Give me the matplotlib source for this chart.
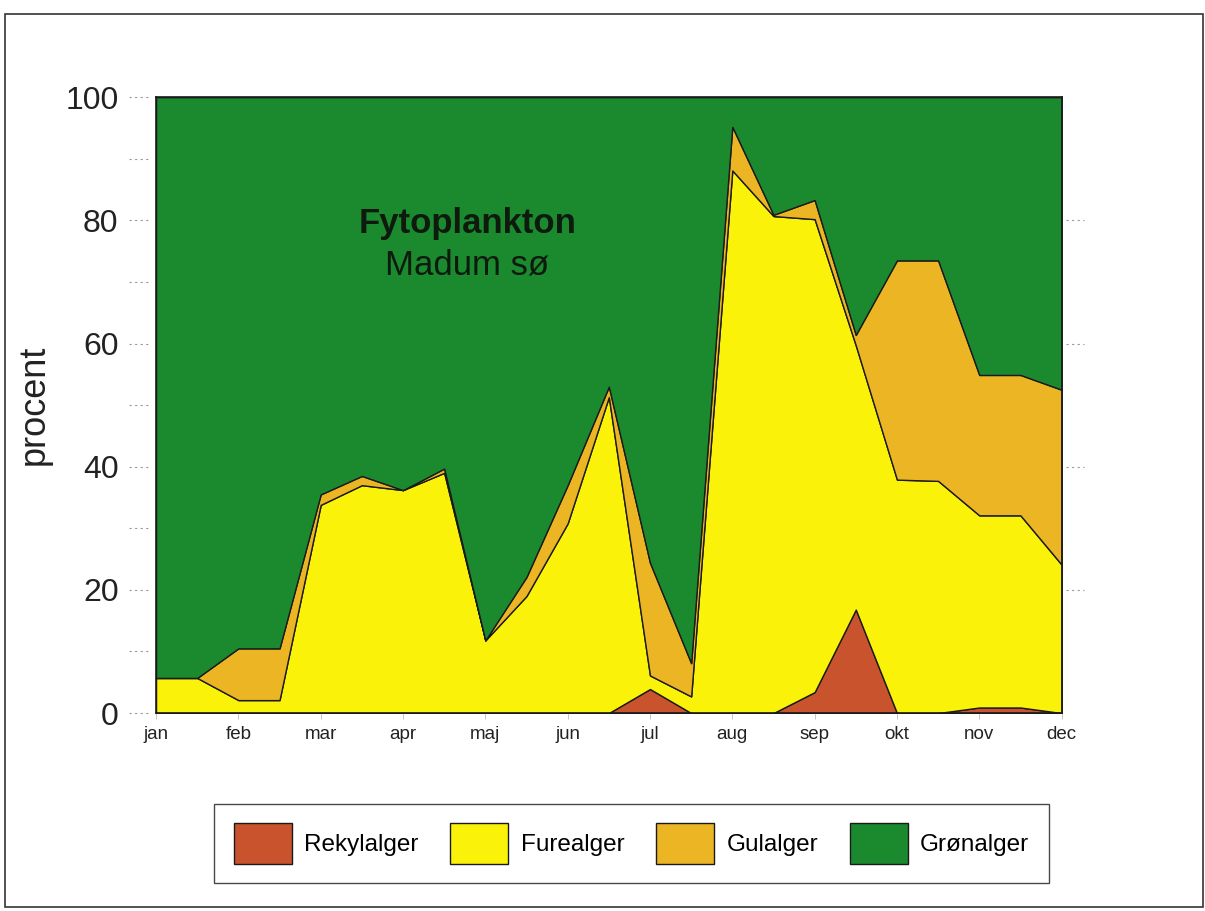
import matplotlib.pyplot as plt
from matplotlib.patches import Patch, Rectangle
import numpy as np

plt.rcParams['font.family'] = ['Liberation Sans', 'DejaVu Sans']

# half-month sampling points, jan .. dec
months = ['jan', 'feb', 'mar', 'apr', 'maj', 'jun', 'jul', 'aug', 'sep', 'okt', 'nov', 'dec']
x = np.arange(23) * 0.5

# percent of total biomass
rekylalger = [0, 0, 0, 0, 0, 0, 0, 0, 0, 0, 0, 0,
              3.9, 0, 0, 0, 3.4, 16.8, 0, 0, 0.9, 0.9, 0]
furealger = [5.7, 5.7, 2.1, 2.1, 33.8, 37.0, 36.2, 39.0, 11.8, 19.0, 30.8, 51.3,
             2.2, 2.7, 88.1, 80.7, 76.8, 42.9, 37.9, 37.7, 31.2, 31.2, 24.1]
gulalger = [0, 0, 8.4, 8.4, 1.7, 1.5, 0, 0.7, 0, 3.1, 6.2, 1.7,
            18.3, 5.4, 7.1, 0.2, 3.1, 1.7, 35.6, 35.8, 22.8, 22.8, 28.4]
gronalger = [94.3, 94.3, 89.5, 89.5, 64.5, 61.5, 63.8, 60.3, 88.2, 77.9, 63.0, 47.0,
             75.6, 91.9, 4.8, 19.1, 16.7, 38.6, 26.5, 26.5, 45.1, 45.1, 47.5]

names = ['Rekylalger', 'Furealger', 'Gulalger', 'Grønalger']
colors = ['#c9532c', '#fbf20a', '#ecb524', '#1b8a2f']

fig = plt.figure(figsize=(12.05, 9.11), dpi=100)
ax = fig.add_axes([0.1295, 0.2173, 0.7515, 0.676])

polys = ax.stackplot(x, rekylalger, furealger, gulalger, gronalger,
                     colors=colors, edgecolor='#1a1a1a', linewidth=1.0)
ax.set_xlim(0, 11)
ax.set_ylim(0, 100)

for s in ax.spines.values():
    s.set_linewidth(1.2)
    s.set_color('#1a1a1a')

ax.set_yticks([0, 20, 40, 60, 80, 100])
ax.set_yticklabels(['0', '20', '40', '60', '80', '100'], fontsize=23, color='#222222')
ax.tick_params(axis='y', length=0, pad=27)
ax.set_xticks(range(12))
ax.set_xticklabels(months, fontsize=13.5, color='#222222')
ax.tick_params(axis='x', length=4, width=0.6, color='#bbbbbb', pad=5)
ax.set_ylabel('procent', fontsize=26, color='#222222', labelpad=10)

# faint dotted tick marks outside the frame
yl = ax.get_yaxis_transform()
for v in range(0, 101, 10):
    ax.plot([-0.03, -0.008], [v, v], transform=yl, clip_on=False,
            color='#9a9a9a', lw=0.8, ls=(0, (2, 3)))
for v in [20, 40, 60, 80]:
    ax.plot([1.005, 1.025], [v, v], transform=yl, clip_on=False,
            color='#9a9a9a', lw=0.8, ls=(0, (2, 3)))

ax.text(3.78, 79.5, 'Fytoplankton', fontsize=25, fontweight='bold',
        ha='center', va='center', color='#0e1a0e')
ax.text(3.78, 72.7, 'Madum sø', fontsize=25, ha='center', va='center', color='#0e1a0e')

handles = [Patch(facecolor=c, edgecolor='#1a1a1a', linewidth=1.0) for c in colors]
leg = fig.legend(handles, names, loc='center', bbox_to_anchor=(0.524, 0.074),
                 ncol=4, fontsize=17.5, frameon=True, fancybox=False,
                 handlelength=2.4, handleheight=2.2, handletextpad=0.5,
                 columnspacing=1.3, borderpad=0.8, borderaxespad=0)
leg.get_frame().set_edgecolor('#1a1a1a')
leg.get_frame().set_linewidth(1.0)

# outer frame of the scanned page
fig.patches.append(Rectangle((0.004, 0.004), 0.994, 0.981, transform=fig.transFigure,
                             fill=False, edgecolor='#333333', linewidth=1.2))

fig.savefig('out.png', dpi=100)
